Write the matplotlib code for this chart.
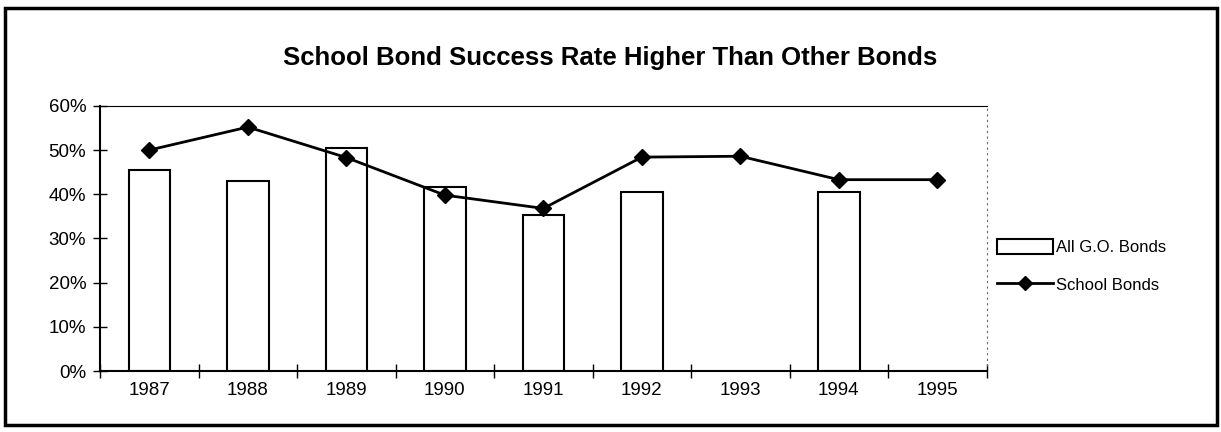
import numpy as np
import matplotlib
matplotlib.use("Agg")
from matplotlib import pyplot as plt
from matplotlib.patches import Rectangle, Patch
from matplotlib.lines import Line2D
from matplotlib.ticker import PercentFormatter

# Data
years = ["1987", "1988", "1989", "1990", "1991", "1992", "1993", "1994", "1995"]
all_go_bonds = [45.5, 42.9, 50.5, 41.7, 35.4, 40.4, np.nan, 40.4, np.nan]
school_bonds = [50.0, 55.2, 48.3, 39.8, 36.8, 48.4, 48.6, 43.3, 43.3]

plt.rcParams['font.family'] = ['Liberation Sans', 'DejaVu Sans']

fig = plt.figure(figsize=(12.21, 4.32), dpi=100)
ax = fig.add_axes([0.082, 0.141, 0.726, 0.614])

x = np.arange(len(years))
ax.bar(x, all_go_bonds, width=0.42, color='white', edgecolor='black', linewidth=1.5)
ax.plot(x, school_bonds, color='black', linewidth=2, marker='D', markersize=8)

ax.set_xlim(-0.5, len(years) - 0.5)
ax.set_ylim(0, 60)
ax.set_yticks(np.arange(0, 61, 10))
ax.yaxis.set_major_formatter(PercentFormatter(decimals=0))

# category labels centred, tick marks between categories
ax.set_xticks(x)
ax.set_xticklabels(years)
ax.set_xticks(np.arange(-0.5, len(years)), minor=True)
ax.tick_params(axis='x', which='major', length=0, pad=8, labelsize=13.5)
ax.tick_params(axis='x', which='minor', direction='inout', length=10, width=1)
ax.tick_params(axis='y', direction='inout', length=10, width=1, labelsize=13.5, pad=5)

for side in ['left', 'bottom']:
    ax.spines[side].set_linewidth(1.5)
ax.spines['top'].set_linewidth(0.8)
ax.spines['right'].set_linestyle((0, (1, 4)))
ax.spines['right'].set_linewidth(0.8)
ax.spines['right'].set_color('0.4')

fig.text(0.5, 0.865, "School Bond Success Rate Higher Than Other Bonds",
         ha='center', va='center', fontsize=18.5, fontweight='bold')

handles = [Patch(facecolor='white', edgecolor='black', linewidth=1.5),
           Line2D([], [], color='black', linewidth=2, marker='D', markersize=7)]
fig.legend(handles, ["All G.O. Bonds", "School Bonds"], loc='center left',
           bbox_to_anchor=(0.804, 0.385), frameon=False, fontsize=12,
           handlelength=3.4, handleheight=1.0, handletextpad=0.15, labelspacing=1.3)

# outer frame
fig.add_artist(Rectangle((0.004, 0.016), 0.993, 0.966, transform=fig.transFigure,
                         fill=False, edgecolor='black', linewidth=2.5))

fig.savefig("out.png", dpi=100)
